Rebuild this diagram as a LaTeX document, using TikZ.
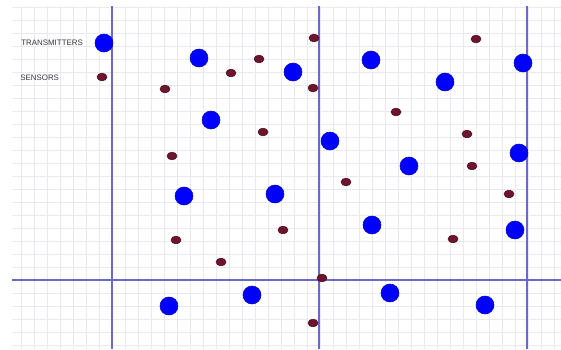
\documentclass[tikz,border=0pt]{standalone}
\usepackage{fontspec}
\setmainfont{Liberation Sans}
\usetikzlibrary{shapes.geometric}

\definecolor{gridgray}{RGB}{232,234,240}
\definecolor{axisblue}{RGB}{105,105,200}
\definecolor{sensorred}{RGB}{110,20,45}
\definecolor{labelgray}{RGB}{55,55,55}

\tikzset{
  transmitter/.style={circle, fill=blue, draw=blue!75!black, line width=0.3pt,
    minimum size=0.36cm, inner sep=0pt},
  sensor/.style={ellipse, fill=sensorred, draw=sensorred!60!black, line width=0.3pt,
    minimum width=0.2cm, minimum height=0.155cm, inner sep=0pt},
  legend/.style={anchor=west, text=labelgray, inner sep=0pt,
    font=\fontsize{4.5}{5}\selectfont},
  gridline/.style={gridgray, line width=0.35pt},
  axisline/.style={axisblue, line width=0.7pt}
}

\begin{document}
\begin{tikzpicture}[x=0.02cm, y=-0.02cm]
        \useasboundingbox (0,0) rectangle (561,349);

        % --- griglia di sfondo ---
        \begin{scope}
        \clip (12,6) rectangle (561,349);
        \foreach \gx in {8,21,...,560}
            \draw[gridline] (\gx,6) -- (\gx,349);
        \foreach \gy in {7,20,...,349}
            \draw[gridline] (12,\gy) -- (561,\gy);
        \end{scope}

        % --- linee di divisione ---
        \foreach \ax [count=\i] in {112,319,527} {
            \coordinate (vtop\i) at (\ax,6);
            \coordinate (vbot\i) at (\ax,349);
            \draw[axisline] (vtop\i) -- (vbot\i);
        }
        \coordinate (hleft) at (12,280);
        \coordinate (hright) at (561,280);
        \draw[axisline] (hleft) -- (hright);

        % --- trasmettitori ---
        \foreach \px/\py [count=\i] in {104/43, 199/58, 293/72, 371/60, 445/82, 523/63,
                211/120, 330/141, 409/166, 519/153, 184/196, 275/194, 372/225, 515/230,
                169/306, 252/295, 390/293, 485/305}
            \node[transmitter] (tx\i) at (\px,\py) {};

        % --- sensori ---
        \foreach \px/\py [count=\i] in {102/77, 165/89, 231/73, 259/59, 314/38, 313/88,
                476/39, 396/112, 263/132, 172/156, 467/134, 346/182, 472/166, 509/194,
                283/230, 176/240, 221/262, 453/239, 322/278, 313/323}
            \node[sensor] (sn\i) at (\px,\py) {};

        % --- legenda ---
        \node[legend] (lbltx) at (21,43) {TRANSMITTERS};
        \node[legend] (lblsn) at (20,78) {SENSORS};
    \end{tikzpicture}
\end{document}
